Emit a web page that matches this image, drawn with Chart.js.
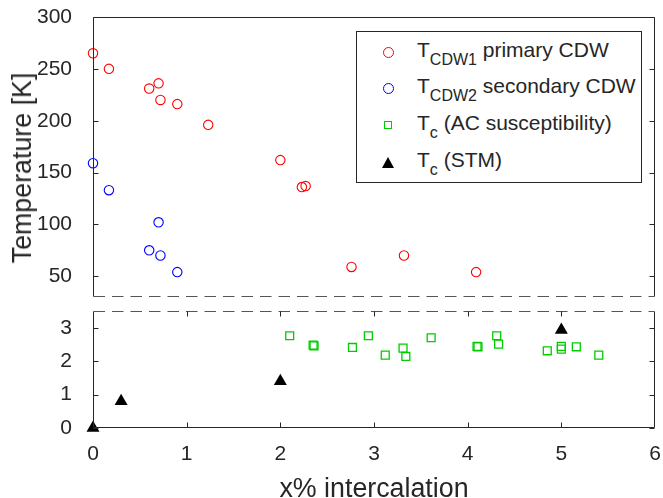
<!DOCTYPE html>
<html>
<head>
<meta charset="utf-8">
<script src="https://cdn.jsdelivr.net/npm/chart.js@4/dist/chart.umd.min.js"></script>
<style>
    html, body { margin: 0; padding: 0; background: #fff; overflow: hidden; }
    #wrap { position: relative; width: 663px; height: 498px; font-family: "Liberation Sans", Arial, sans-serif; color: #262626; }
    #wrap canvas { position: absolute; left: 0; }
    #topCanvas { top: 0; }
    #botCanvas { top: 300px; }
    .axis-title { position: absolute; font-size: 26.8px; line-height: 30px; white-space: nowrap; }
    #ytitle { left: 21.7px; top: 167.5px; transform: translate(-50%, -50%) rotate(-90deg); }
    #xtitle { left: 374px; top: 488px; transform: translate(-50%, -50%); }
    #legend { position: absolute; left: 356px; top: 31px; width: 286px; height: 152px; border: 1px solid #262626; background: #fff; box-sizing: border-box; }
    .row { position: absolute; left: 60px; font-size: 21px; line-height: 24px; white-space: nowrap; }
    .row .sub { font-size: 16px; position: relative; top: 8px; }
    .mk { position: absolute; box-sizing: border-box; }
    .mk.circle { width: 11px; height: 11px; border-radius: 50%; border: 1px solid; }
    .mk.square { width: 8px; height: 8px; border: 1.3px solid #00cc00; }
    .mk.tri { width: 0; height: 0; border-left: 6.5px solid transparent; border-right: 6.5px solid transparent; border-bottom: 11px solid #000; }
</style>
</head>
<body>
<div id="wrap">
    <canvas id="topCanvas" width="663" height="300"></canvas>
    <canvas id="botCanvas" width="663" height="198"></canvas>
    <div class="axis-title" id="ytitle">Temperature [K]</div>
    <div class="axis-title" id="xtitle">x% intercalation</div>
    <div id="legend">
        <div class="mk circle" style="left:25.5px; top:15px; border-color:#ff0000;"></div>
        <div class="row" style="top:5.5px;">T<span class="sub">CDW1</span> primary CDW</div>
        <div class="mk circle" style="left:25.5px; top:51px; border-color:#0000ff;"></div>
        <div class="row" style="top:42px;">T<span class="sub">CDW2</span> secondary CDW</div>
        <div class="mk square" style="left:27px; top:89px;"></div>
        <div class="row" style="top:78.5px;">T<span class="sub">c</span> (AC susceptibility)</div>
        <div class="mk tri" style="left:24.5px; top:125px;"></div>
        <div class="row" style="top:115.5px;">T<span class="sub">c</span> (STM)</div>
    </div>
</div>
<script>
// ---- data ----
const cdw1X = [0, 0.17, 0.60, 0.70, 0.72, 0.90, 1.23, 2.00, 2.23, 2.27, 2.76, 3.32, 4.09];
const cdw1Y = [265, 250, 231, 236, 220, 216, 196, 162, 136, 137, 59, 70, 54];

const cdw2X = [0, 0.17, 0.60, 0.70, 0.72, 0.90];
const cdw2Y = [159, 133, 75, 102, 70, 54];

const acX = [2.10, 2.35, 2.36, 2.77, 2.94, 3.12, 3.31, 3.34, 3.61, 4.10, 4.11, 4.31, 4.33, 4.85, 5.00, 5.00, 5.16, 5.40];
const acY = [2.76, 2.48, 2.46, 2.41, 2.76, 2.18, 2.39, 2.14, 2.70, 2.44, 2.43, 2.76, 2.51, 2.31, 2.44, 2.36, 2.43, 2.18];

const stmX = [0, 0.30, 2.00, 5.00];
const stmY = [0, 0.8, 1.4, 2.93];

const xTicks = [0, 1, 2, 3, 4, 5, 6];
const topYTicks = [50, 100, 150, 200, 250, 300];
const botYTicks = [0, 1, 2, 3];

const axisColor = '#262626';
const tickFont = { family: '"Liberation Sans", Arial, sans-serif', size: 21 };

const toPoints = (xs, ys) => xs.map((x, i) => ({ x: x, y: ys[i] }));

// scale label overhang must not shrink the plot box
const noPad = s => {
    s.paddingTop = 0; s.paddingBottom = 0;
    s.paddingLeft = 0; s.paddingRight = 0;
};

// Frame: solid box sides, dashed break line, inward tick marks
const framePlugin = {
    id: 'frame',
    afterDraw: (chart, args, opts) => {
        const { ctx, chartArea: a, scales } = chart;
        const L = Math.round(a.left) + 0.5;
        const R = Math.round(a.right) - 0.5;
        const T = Math.round(a.top) + 0.5;
        const B = Math.round(a.bottom) - 0.5;
        ctx.save();
        ctx.strokeStyle = axisColor;
        ctx.lineWidth = 1;

        // solid sides
        ctx.beginPath();
        ctx.moveTo(L, T); ctx.lineTo(L, B);
        ctx.moveTo(R, T); ctx.lineTo(R, B);
        if (!opts.dashedTop) { ctx.moveTo(L, T); ctx.lineTo(R, T); }
        if (!opts.dashedBottom) { ctx.moveTo(L, B); ctx.lineTo(R, B); }
        ctx.stroke();

        // dashed break line
        ctx.save();
        ctx.setLineDash([11.5, 7]);
        ctx.strokeStyle = '#555';
        ctx.beginPath();
        if (opts.dashedTop) { ctx.moveTo(L, T); ctx.lineTo(R, T); }
        if (opts.dashedBottom) { ctx.moveTo(L, B); ctx.lineTo(R, B); }
        ctx.stroke();
        ctx.restore();

        // inward ticks
        const len = 5;
        ctx.beginPath();
        opts.yTicks.forEach(v => {
            const py = Math.round(scales.y.getPixelForValue(v)) + 0.5;
            ctx.moveTo(L, py); ctx.lineTo(L + len, py);
            ctx.moveTo(R, py); ctx.lineTo(R - len, py);
        });
        if (opts.xTicks) {
            opts.xTicks.forEach(v => {
                if (v === 0 || v === 6) return;
                const px = Math.round(scales.x.getPixelForValue(v)) + 0.5;
                ctx.moveTo(px, B); ctx.lineTo(px, B - len);
                ctx.moveTo(px, T); ctx.lineTo(px, T + len);
            });
        }
        ctx.stroke();
        ctx.restore();
    }
};

const circleSet = (label, xs, ys, color) => ({
    label: label,
    data: toPoints(xs, ys),
    pointStyle: 'circle',
    pointRadius: 4.7,
    borderWidth: 1.1,
    borderColor: color,
    backgroundColor: 'rgba(0,0,0,0)',
    clip: false
});

// Top panel: CDW temperatures
new Chart(document.getElementById('topCanvas'), {
    type: 'scatter',
    data: {
        datasets: [
            circleSet('TCDW1 primary CDW', cdw1X, cdw1Y, '#ff0000'),
            circleSet('TCDW2 secondary CDW', cdw2X, cdw2Y, '#0000ff')
        ]
    },
    options: {
        responsive: false,
        animation: false,
        events: [],
        layout: { autoPadding: false, padding: { left: 0, right: 8, top: 17, bottom: 3 } },
        plugins: {
            legend: { display: false },
            tooltip: { enabled: false },
            frame: { dashedTop: false, dashedBottom: true, yTicks: topYTicks, xTicks: null }
        },
        scales: {
            x: { type: 'linear', min: 0, max: 6, display: false, afterFit: noPad },
            y: {
                type: 'linear', min: 30, max: 300,
                afterBuildTicks: s => { s.ticks = topYTicks.map(v => ({ value: v })); },
                afterFit: s => { s.width = 93; noPad(s); },
                grid: { display: false },
                border: { display: false },
                ticks: { color: axisColor, font: tickFont, padding: 13 }
            }
        }
    },
    plugins: [framePlugin]
});

// Bottom panel: superconducting Tc
new Chart(document.getElementById('botCanvas'), {
    type: 'scatter',
    data: {
        datasets: [
            {
                label: 'Tc (AC susceptibility)',
                data: toPoints(acX, acY),
                pointStyle: 'rect',
                pointRadius: 5.6,
                borderWidth: 1.3,
                borderColor: '#00cc00',
                backgroundColor: 'rgba(0,0,0,0)',
                clip: false
            },
            {
                label: 'Tc (STM)',
                data: toPoints(stmX, stmY),
                pointStyle: 'triangle',
                pointRadius: 7.5,
                borderWidth: 0,
                backgroundColor: '#000',
                clip: false
            }
        ]
    },
    options: {
        responsive: false,
        animation: false,
        events: [],
        layout: { autoPadding: false, padding: { left: 0, right: 8, top: 11, bottom: 0 } },
        plugins: {
            legend: { display: false },
            tooltip: { enabled: false },
            frame: { dashedTop: true, dashedBottom: false, yTicks: botYTicks, xTicks: xTicks }
        },
        scales: {
            x: {
                type: 'linear', min: 0, max: 6,
                afterBuildTicks: s => { s.ticks = xTicks.map(v => ({ value: v })); },
                afterFit: s => { s.height = 70; noPad(s); },
                grid: { display: false, drawTicks: false },
                border: { display: false },
                ticks: { color: axisColor, font: tickFont, padding: 14, maxRotation: 0 }
            },
            y: {
                type: 'linear', min: 0, max: 3.5,
                afterBuildTicks: s => { s.ticks = botYTicks.map(v => ({ value: v })); },
                afterFit: s => { s.width = 93; noPad(s); },
                grid: { display: false },
                border: { display: false },
                ticks: { color: axisColor, font: tickFont, padding: 13 }
            }
        }
    },
    plugins: [framePlugin]
});
</script>
</body>
</html>
